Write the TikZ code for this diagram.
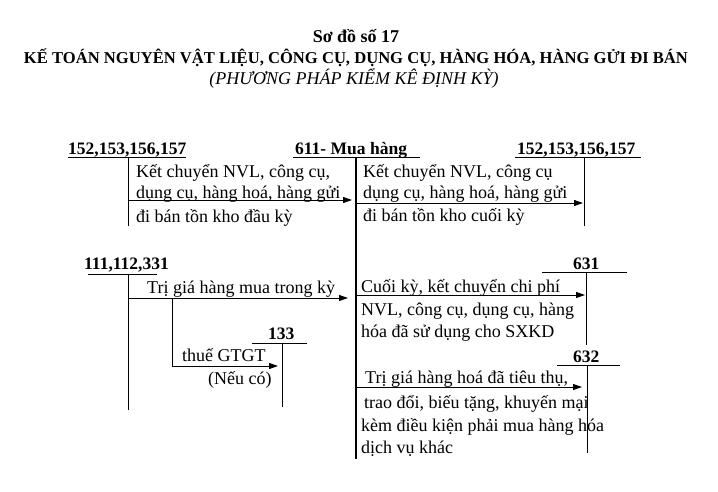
\documentclass[tikz,border=0pt]{standalone}
\usepackage{fontspec}
\setmainfont{Liberation Serif}
\usetikzlibrary{arrows.meta}
\begin{document}
\begin{tikzpicture}[x=1pt,y=-1pt,
  txt/.style={anchor=base west,inner sep=0pt,font=\fontsize{18}{21}\selectfont},
  acc/.style={anchor=base west,inner sep=0pt,font=\fontsize{17.5}{21}\selectfont\bfseries},
  ttl/.style={anchor=base,inner sep=0pt},
  tline/.style={line width=0.9pt},
  main/.style={line width=1.8pt},
  arr/.style={line width=0.9pt,-{Triangle[length=9pt,width=6pt]}},
]
\useasboundingbox (0,0) rectangle (718,491);
% titles
\node[ttl,font=\fontsize{18}{21}\selectfont\bfseries] (t1) at (356,42) {Sơ đồ số 17};
\node[ttl,font=\fontsize{16.6}{20}\selectfont\bfseries] (t2) at (356,63) {KẾ TOÁN NGUYÊN VẬT LIỆU, CÔNG CỤ, DỤNG CỤ, HÀNG HÓA, HÀNG GỬI ĐI BÁN};
\node[ttl,font=\fontsize{18}{21}\selectfont\itshape] (t3) at (354,84) {(PHƯƠNG PHÁP KIỂM KÊ ĐỊNH KỲ)};

% account 611
\node[acc] (m) at (295,154) {611- Mua hàng};
\coordinate (ml) at (293,157); \coordinate (mr) at (420,157);
\coordinate (mt) at (356,157); \coordinate (mb) at (356,459);
\draw[tline] (ml) -- (mr);
\draw[main] (mt) -- (mb);

% account top-left
\node[acc] (a1) at (68,154) {152,153,156,157};
\coordinate (a1l) at (68,157); \coordinate (a1r) at (186,157);
\coordinate (a1t) at (128,157); \coordinate (a1b) at (128,226);
\draw[tline] (a1l) -- (a1r);
\draw[tline] (a1t) -- (a1b);
\coordinate (e1s) at (128,200); \coordinate (e1e) at (352,200);
\draw[arr] (e1s) -- (e1e);
\node[txt] (l1a) at (136,177) {Kết chuyển NVL, công cụ,};
\node[txt] (l1b) at (136,198) {dụng cụ, hàng hoá, hàng gửi};
\node[txt] (l1c) at (136,222) {đi bán tồn kho đầu kỳ};

% account top-right
\node[acc] (a2) at (517,154) {152,153,156,157};
\coordinate (a2l) at (515,157); \coordinate (a2r) at (641,157);
\coordinate (a2t) at (584,157); \coordinate (a2b) at (584,226);
\draw[tline] (a2l) -- (a2r);
\draw[tline] (a2t) -- (a2b);
\coordinate (e2s) at (356,203); \coordinate (e2e) at (583,203);
\draw[arr] (e2s) -- (e2e);
\node[txt] (l2a) at (363,177) {Kết chuyển NVL, công cụ};
\node[txt] (l2b) at (363,198) {dụng cụ, hàng hoá, hàng gửi};
\node[txt] (l2c) at (363,221) {đi bán tồn kho cuối kỳ};

% account 111,112,331
\node[acc] (a3) at (84,269) {111,112,331};
\coordinate (a3l) at (88,274); \coordinate (a3r) at (157,274);
\coordinate (a3t) at (128,274); \coordinate (a3b) at (128,410);
\draw[tline] (a3l) -- (a3r);
\draw[tline] (a3t) -- (a3b);
\coordinate (e3s) at (128,298); \coordinate (e3e) at (348,298);
\draw[arr] (e3s) -- (e3e);
\node[txt] (l3a) at (147,293) {Trị giá hàng mua trong kỳ};
\coordinate (e4s) at (172,298); \coordinate (e4e) at (278,366);
\draw[arr] (e4s) |- (e4e);
\node[txt] (l4a) at (182,361) {thuế GTGT};
\node[txt] (l4b) at (208,384) {(Nếu có)};

% account 133
\node[acc] (a4) at (268,339) {133};
\coordinate (a4l) at (252,343); \coordinate (a4r) at (307,343);
\coordinate (a4t) at (282,343); \coordinate (a4b) at (282,407);
\draw[tline] (a4l) -- (a4r);
\draw[tline] (a4t) -- (a4b);

% account 631
\node[acc] (a5) at (573,269) {631};
\coordinate (a5l) at (542,272); \coordinate (a5r) at (627,272);
\coordinate (a5t) at (586,272); \coordinate (a5b) at (586,345);
\draw[tline] (a5l) -- (a5r);
\draw[tline] (a5t) -- (a5b);
\coordinate (e5s) at (356,295); \coordinate (e5e) at (585,295);
\draw[arr] (e5s) -- (e5e);
\node[txt] (l5a) at (361,292) {Cuối kỳ, kết chuyển chi phí};
\node[txt] (l5b) at (361,315) {NVL, công cụ, dụng cụ, hàng};
\node[txt] (l5c) at (361,337) {hóa đã sử dụng cho SXKD};

% account 632
\node[acc] (a6) at (573,362) {632};
\coordinate (a6l) at (557,365); \coordinate (a6r) at (620,365);
\coordinate (a6t) at (587,365); \coordinate (a6b) at (587,453);
\draw[tline] (a6l) -- (a6r);
\draw[tline] (a6t) -- (a6b);
\coordinate (e6s) at (356,387); \coordinate (e6e) at (582,387);
\draw[arr] (e6s) -- (e6e);
\node[txt] (l6a) at (365,383) {Trị giá hàng hoá đã tiêu thụ,};
\node[txt] (l6b) at (364,408) {trao đổi, biếu tặng, khuyến mại};
\node[txt] (l6c) at (361,431) {kèm điều kiện phải mua hàng hóa};
\node[txt] (l6d) at (361,453) {dịch vụ khác};
\end{tikzpicture}
\end{document}
